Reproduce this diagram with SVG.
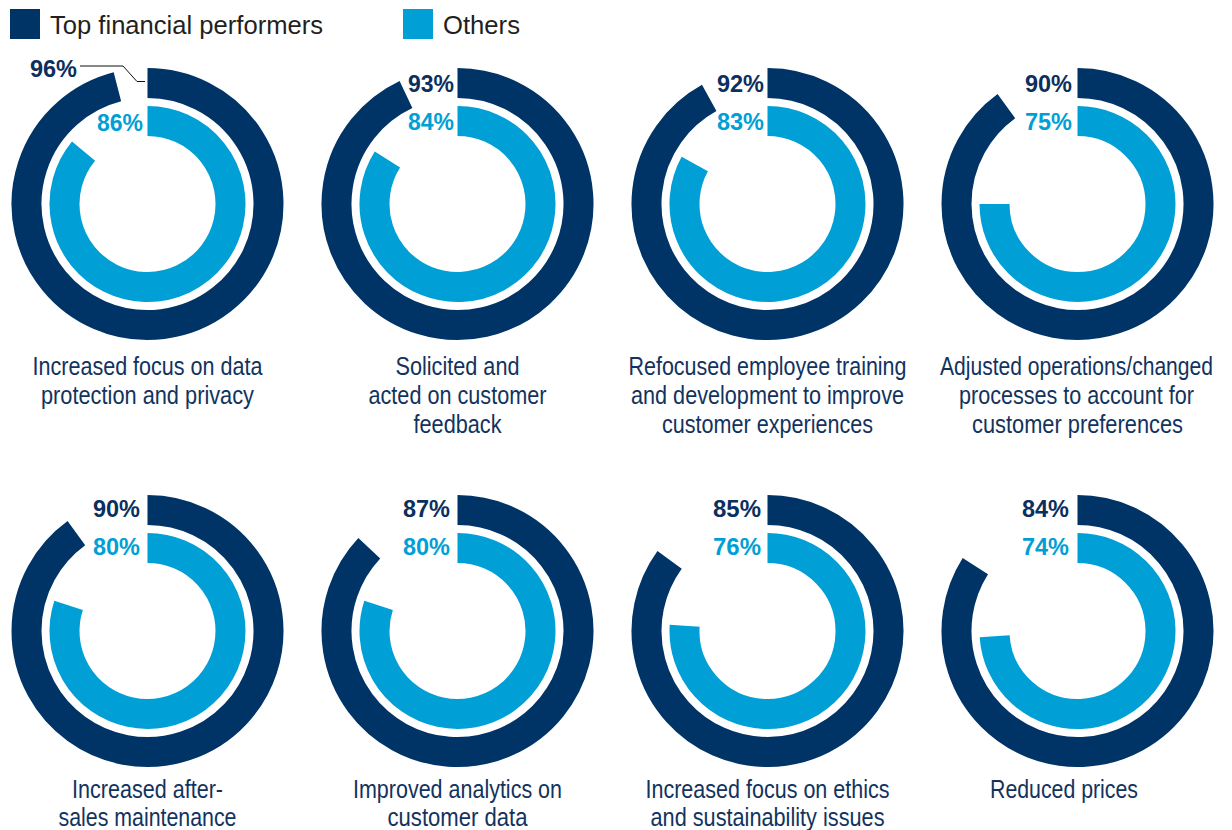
<svg xmlns="http://www.w3.org/2000/svg" width="1232" height="830" viewBox="0 0 1232 830">
<style>
.o{fill:none;stroke:#003366;stroke-width:30}
.i{fill:none;stroke:#009fd6;stroke-width:30}
.pd{font-family:"Liberation Sans",Arial,sans-serif;font-weight:bold;font-size:24px;fill:#0b2f5e;text-anchor:end}
.pl{font-family:"Liberation Sans",Arial,sans-serif;font-weight:bold;font-size:24px;fill:#009fd6;text-anchor:end}
.lb{font-family:"Liberation Sans",Arial,sans-serif;font-size:26px;fill:#12335e;text-anchor:middle}
.lg{font-family:"Liberation Sans",Arial,sans-serif;font-size:25.5px;fill:#231f20}
</style>
<rect width="1232" height="830" fill="#ffffff"/>
<g id="legend">
<rect x="10" y="9" width="30" height="30" fill="#003366"/>
<text class="lg" x="50" y="34" textLength="273" lengthAdjust="spacingAndGlyphs">Top financial performers</text>
<rect x="403" y="9" width="30" height="30" fill="#009fd6"/>
<text class="lg" x="443" y="34" textLength="77" lengthAdjust="spacingAndGlyphs">Others</text>
</g>
<g id="connectors">
<polyline points="80,66 123,66 137,81.5 145,81.5" fill="none" stroke="#111" stroke-width="1"/>
</g>
<g id="chart1">
<path class="o" d="M147.5,83 A121,121 0 1 1 117.41,86.80"/>
<path class="i" d="M147.5,121 A83,83 0 1 1 83.55,151.09"/>
<text class="pd" x="77" y="77" textLength="47" lengthAdjust="spacingAndGlyphs">96%</text>
<text class="pl" x="143" y="131" textLength="46" lengthAdjust="spacingAndGlyphs">86%</text>
<text class="lb" x="147.5" y="375" textLength="230" lengthAdjust="spacingAndGlyphs">Increased focus on data</text>
<text class="lb" x="147.5" y="404" textLength="213" lengthAdjust="spacingAndGlyphs">protection and privacy</text>
</g>
<g id="chart2">
<path class="o" d="M457.5,83 A121,121 0 1 1 405.98,94.52"/>
<path class="i" d="M457.5,121 A83,83 0 1 1 387.42,159.53"/>
<text class="pd" x="454" y="92" textLength="46" lengthAdjust="spacingAndGlyphs">93%</text>
<text class="pl" x="454" y="130" textLength="46" lengthAdjust="spacingAndGlyphs">84%</text>
<text class="lb" x="457.5" y="375" textLength="124" lengthAdjust="spacingAndGlyphs">Solicited and</text>
<text class="lb" x="457.5" y="404" textLength="178" lengthAdjust="spacingAndGlyphs">acted on customer</text>
<text class="lb" x="457.5" y="433" textLength="88" lengthAdjust="spacingAndGlyphs">feedback</text>
</g>
<g id="chart3">
<path class="o" d="M767.5,83 A121,121 0 1 1 709.21,97.97"/>
<path class="i" d="M767.5,121 A83,83 0 1 1 694.77,164.01"/>
<text class="pd" x="764" y="92" textLength="47" lengthAdjust="spacingAndGlyphs">92%</text>
<text class="pl" x="764" y="130" textLength="47" lengthAdjust="spacingAndGlyphs">83%</text>
<text class="lb" x="767.5" y="375" textLength="278" lengthAdjust="spacingAndGlyphs">Refocused employee training</text>
<text class="lb" x="767.5" y="404" textLength="273" lengthAdjust="spacingAndGlyphs">and development to improve</text>
<text class="lb" x="767.5" y="433" textLength="211" lengthAdjust="spacingAndGlyphs">customer experiences</text>
</g>
<g id="chart4">
<path class="o" d="M1077.5,83 A121,121 0 1 1 1006.38,106.11"/>
<path class="i" d="M1077.5,121 A83,83 0 1 1 994.5,204"/>
<text class="pd" x="1072" y="92" textLength="47" lengthAdjust="spacingAndGlyphs">90%</text>
<text class="pl" x="1072" y="130" textLength="47" lengthAdjust="spacingAndGlyphs">75%</text>
<text class="lb" x="1076.5" y="375" textLength="273" lengthAdjust="spacingAndGlyphs">Adjusted operations/changed</text>
<text class="lb" x="1076.5" y="404" textLength="235" lengthAdjust="spacingAndGlyphs">processes to account for</text>
<text class="lb" x="1077.5" y="433" textLength="211" lengthAdjust="spacingAndGlyphs">customer preferences</text>
</g>
<g id="chart5">
<path class="o" d="M147.5,510 A121,121 0 1 1 76.38,533.11"/>
<path class="i" d="M147.5,548 A83,83 0 1 1 68.56,605.35"/>
<text class="pd" x="140" y="517" textLength="47" lengthAdjust="spacingAndGlyphs">90%</text>
<text class="pl" x="140" y="555" textLength="47" lengthAdjust="spacingAndGlyphs">80%</text>
<text class="lb" x="147.5" y="798" textLength="151" lengthAdjust="spacingAndGlyphs">Increased after-</text>
<text class="lb" x="147.5" y="826" textLength="178" lengthAdjust="spacingAndGlyphs">sales maintenance</text>
</g>
<g id="chart6">
<path class="o" d="M457.5,510 A121,121 0 1 1 369.29,548.17"/>
<path class="i" d="M457.5,548 A83,83 0 1 1 378.56,605.35"/>
<text class="pd" x="450" y="517" textLength="47" lengthAdjust="spacingAndGlyphs">87%</text>
<text class="pl" x="450" y="555" textLength="47" lengthAdjust="spacingAndGlyphs">80%</text>
<text class="lb" x="457.5" y="798" textLength="209" lengthAdjust="spacingAndGlyphs">Improved analytics on</text>
<text class="lb" x="457.5" y="826" textLength="140" lengthAdjust="spacingAndGlyphs">customer data</text>
</g>
<g id="chart7">
<path class="o" d="M767.5,510 A121,121 0 1 1 669.61,559.88"/>
<path class="i" d="M767.5,548 A83,83 0 1 1 684.66,625.79"/>
<text class="pd" x="761" y="517" textLength="48" lengthAdjust="spacingAndGlyphs">85%</text>
<text class="pl" x="761" y="555" textLength="48" lengthAdjust="spacingAndGlyphs">76%</text>
<text class="lb" x="767.5" y="798" textLength="244" lengthAdjust="spacingAndGlyphs">Increased focus on ethics</text>
<text class="lb" x="767.5" y="826" textLength="234" lengthAdjust="spacingAndGlyphs">and sustainability issues</text>
</g>
<g id="chart8">
<path class="o" d="M1077.5,510 A121,121 0 1 1 975.34,566.16"/>
<path class="i" d="M1077.5,548 A83,83 0 1 1 994.66,636.21"/>
<text class="pd" x="1069" y="517" textLength="47" lengthAdjust="spacingAndGlyphs">84%</text>
<text class="pl" x="1069" y="555" textLength="47" lengthAdjust="spacingAndGlyphs">74%</text>
<text class="lb" x="1064" y="798" textLength="148" lengthAdjust="spacingAndGlyphs">Reduced prices</text>
</g>
</svg>
